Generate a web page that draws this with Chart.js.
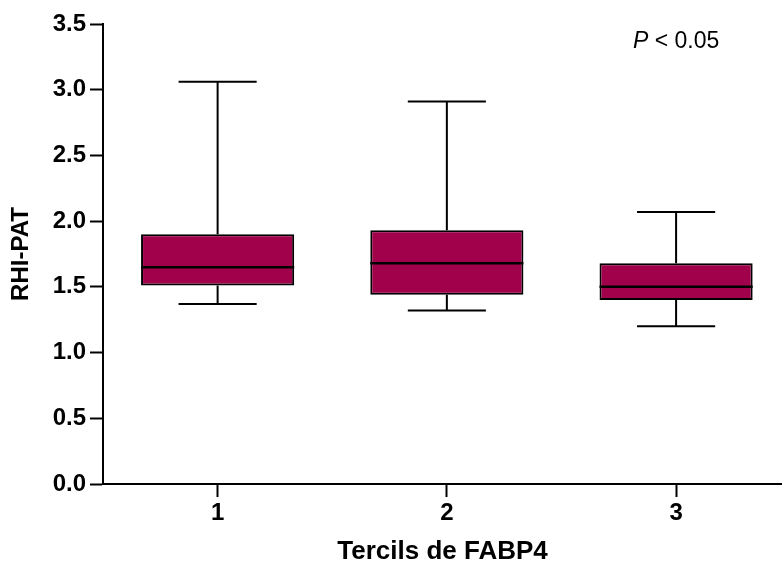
<!DOCTYPE html>
<html lang="es">
<head>
  <meta charset="UTF-8">
  <title>RHI-PAT por tercil de FABP4</title>
  <script src="https://cdn.jsdelivr.net/npm/chart.js"></script>
  <style>
    html, body { margin: 0; padding: 0; background: #fff; overflow: hidden; }
    #wrap { width: 782px; height: 570px; position: relative; }
  </style>
</head>
<body>
<div id="wrap"><canvas id="boxChart"></canvas></div>

<script>
// data
const groups = ['1', '2', '3'];
const whiskerLow = [1.37, 1.32, 1.20];
const q1 = [1.51, 1.44, 1.40];
const median = [1.65, 1.68, 1.50];
const q3 = [1.90, 1.93, 1.68];
const whiskerHigh = [3.06, 2.91, 2.07];
const yMin = 0, yMax = 3.5, yStep = 0.5;
const pText = ['P', ' < 0.05'];

const FONT = "'Liberation Sans', Arial, sans-serif";
const boxFill = '#a1004b';

// whiskers, caps, medians and the P note, placed through the chart scales
const boxPlugin = {
  id: 'boxParts',
  afterDatasetsDraw(chart) {
    const { ctx, scales: { x, y } } = chart;
    const meta = chart.getDatasetMeta(0);
    ctx.save();
    ctx.strokeStyle = '#000';
    meta.data.forEach((bar, i) => {
      const cx = x.getPixelForValue(i + 1);
      const half = bar.width / 2;
      const cap = half * 0.51;
      const yLo = y.getPixelForValue(whiskerLow[i]);
      const yHi = y.getPixelForValue(whiskerHigh[i]);
      const yQ1 = y.getPixelForValue(q1[i]);
      const yQ3 = y.getPixelForValue(q3[i]);
      const yMed = y.getPixelForValue(median[i]);
      ctx.lineWidth = 2;
      ctx.beginPath();
      ctx.moveTo(cx, yQ3); ctx.lineTo(cx, yHi);
      ctx.moveTo(cx - cap, yHi); ctx.lineTo(cx + cap, yHi);
      ctx.moveTo(cx, yQ1); ctx.lineTo(cx, yLo);
      ctx.moveTo(cx - cap, yLo); ctx.lineTo(cx + cap, yLo);
      ctx.stroke();
      ctx.lineWidth = 2.5;
      ctx.beginPath();
      ctx.moveTo(cx - half, yMed); ctx.lineTo(cx + half, yMed);
      ctx.stroke();
    });

    // P < 0.05 note
    ctx.fillStyle = '#000';
    ctx.textBaseline = 'middle';
    const fItal = 'italic 23px ' + FONT;
    const fNorm = '23px ' + FONT;
    ctx.font = fItal; const w1 = ctx.measureText(pText[0]).width;
    ctx.font = fNorm; const w2 = ctx.measureText(pText[1]).width;
    const px = x.getPixelForValue(3) - (w1 + w2) / 2;
    const py = y.getPixelForValue(3.365);
    ctx.font = fItal; ctx.fillText(pText[0], px, py);
    ctx.font = fNorm; ctx.fillText(pText[1], px + w1, py);
    ctx.restore();
  }
};

new Chart(document.getElementById('boxChart'), {
  type: 'bar',
  data: {
    datasets: [{
      data: groups.map((g, i) => ({ x: i + 1, y: [q1[i], q3[i]] })),
      backgroundColor: boxFill,
      borderColor: '#000',
      borderWidth: 2,
      borderSkipped: false,
      categoryPercentage: 1,
      barPercentage: 0.668
    }]
  },
  options: {
    responsive: true,
    maintainAspectRatio: false,
    animation: false,
    layout: { padding: { top: 24, right: 0, left: 0, bottom: 0 } },
    plugins: { legend: { display: false }, tooltip: { enabled: false } },
    scales: {
      x: {
        type: 'linear',
        offset: false,
        min: 0.5,
        max: 3.462,
        afterBuildTicks: s => { s.ticks = groups.map((g, i) => ({ value: i + 1 })); },
        afterFit: s => { s.height = 86; },
        border: { display: true, color: '#000', width: 2 },
        grid: { offset: false, drawOnChartArea: false, drawTicks: true, tickLength: 13, tickWidth: 2, tickColor: '#000' },
        ticks: {
          color: '#000', padding: 2,
          font: { family: FONT, size: 24, weight: 'bold' },
          callback: (v, i) => groups[i]
        },
        title: {
          display: true, text: 'Tercils de FABP4', color: '#000',
          font: { family: FONT, size: 26, weight: 'bold' },
          padding: { top: 0, bottom: 3 }
        }
      },
      y: {
        min: yMin,
        max: yMax,
        afterFit: s => { s.width = 103; },
        border: { display: true, color: '#000', width: 2 },
        grid: { drawOnChartArea: false, drawTicks: true, tickLength: 13, tickWidth: 2, tickColor: '#000' },
        ticks: {
          stepSize: yStep, color: '#000', padding: 4,
          font: { family: FONT, size: 24, weight: 'bold' },
          callback: v => v.toFixed(1)
        },
        title: {
          display: true, text: 'RHI-PAT', color: '#000',
          font: { family: FONT, size: 24, weight: 'bold' },
          padding: { top: 7, bottom: 0 }
        }
      }
    }
  },
  plugins: [boxPlugin]
});
</script>
</body>
</html>
